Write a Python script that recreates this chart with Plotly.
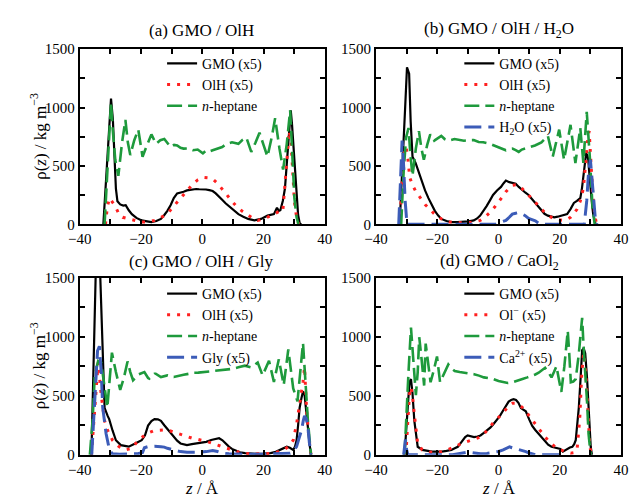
import plotly.graph_objects as go

FONT = "Times New Roman, Liberation Serif, serif"
BLACK = "#000000"
RED = "#ff2020"
GREEN = "#1e9a3c"
BLUE = "#3c5cb8"

# ---------------- panel (a) GMO / OlH ----------------
a_gmo_z = [-32.3,-31.5,-30.6,-29.8,-29.2,-28.6,-28.2,-27.7,-26.8,-25.8,-25.0,-24.0,-23.0,-21.5,-19.8,-18.0,-16.6,-15.0,-13.5,-12.4,-11.4,-10.3,-9.3,-8.2,-7.2,-6.1,-5.0,-4.0,-3.0,-2.0,-1.0,0.0,1.2,2.3,3.4,4.4,5.5,6.5,7.6,8.6,10.2,11.8,13.4,15.0,17.0,19.2,21.3,22.4,23.4,24.4,25.0,25.5,26.3,27.0,27.6,28.1,28.9,29.3,29.7,30.2,30.8,31.3,31.8,32.3]
a_gmo = [0,350,800,1076,900,560,306,197,170,160,164,120,87,55,33,25,19,28,46,80,115,165,224,265,270,279,290,295,300,302,300,300,298,292,285,265,240,210,180,156,120,87,65,46,33,46,74,80,87,142,115,120,200,306,540,743,975,860,689,450,197,80,11,0]
a_olh_z = [-31.6,-31.0,-30.3,-29.5,-28.8,-28.2,-27.2,-26.0,-24.0,-22.0,-19.8,-17.7,-15.6,-14.0,-12.4,-10.8,-9.3,-7.7,-6.1,-4.5,-3.0,-1.5,0.2,1.8,3.4,5.0,6.5,8.1,9.7,11.3,12.9,14.5,16.0,18.1,20.2,22.3,24.0,25.5,26.3,27.0,27.6,28.4,29.0,29.6,30.1,30.8,31.5]
a_olh = [0,150,224,200,170,142,87,60,46,30,19,22,33,50,74,110,156,200,251,300,347,380,402,398,388,350,306,250,197,150,115,85,60,33,46,74,95,115,111,350,600,800,700,450,194,60,0]
a_hep_z = [-31.9,-31.0,-30.3,-29.8,-29.2,-28.4,-27.4,-26.2,-25.1,-24.3,-23.5,-22.2,-20.9,-20.2,-19.5,-18.0,-16.6,-15.1,-13.7,-12.4,-11.3,-10.3,-9.2,-8.2,-7.1,-6.1,-4.5,-3.0,-1.5,0.2,1.3,2.4,3.4,5.0,6.5,8.0,9.7,11.8,13.0,14.4,16.0,17.4,18.7,20.0,21.3,22.8,23.8,25.2,26.4,27.6,28.7,29.4,30.1,30.8,31.4]
a_hep = [0,500,900,1044,800,550,415,700,893,700,593,720,811,700,579,680,770,689,720,730,690,661,680,675,655,648,650,634,640,607,634,625,634,650,661,690,702,689,720,743,620,700,784,680,579,760,908,650,468,689,977,600,221,60,0]

# ---------------- panel (b) GMO / OlH / H2O ----------------
b_gmo_z = [-32.3,-31.3,-30.5,-29.9,-29.2,-28.7,-28.1,-27.1,-26.0,-25.0,-24.0,-22.9,-21.8,-20.8,-19.7,-18.7,-17.0,-15.5,-13.5,-11.3,-9.7,-8.1,-7.0,-6.0,-5.0,-3.9,-2.8,-1.8,-0.5,0.8,1.6,2.4,3.5,4.5,5.6,6.6,7.7,8.8,9.8,10.9,11.9,13.0,14.0,15.0,16.1,17.2,18.2,19.3,20.3,21.4,22.4,23.5,24.6,25.6,26.7,27.2,27.7,28.2,28.6,29.0,29.3,29.7,30.0,30.5,30.9,31.3,31.7]
b_gmo = [0,500,1000,1344,1290,880,579,525,440,361,290,224,165,115,75,46,28,19,18,19,25,33,50,74,110,156,205,251,290,320,350,374,361,355,347,320,292,270,251,215,183,150,115,90,74,65,60,65,74,80,87,130,183,200,224,300,415,540,607,590,552,420,306,180,87,30,0]
b_olh_z = [-32.3,-31.5,-30.8,-30.2,-29.6,-29.0,-28.0,-27.0,-25.5,-24.0,-22.5,-21.0,-19.5,-18.0,-16.0,-13.0,-10.2,-8.0,-6.0,-4.5,-2.8,-1.2,0.3,1.4,2.4,3.5,4.5,5.6,6.6,7.7,8.7,9.8,10.9,12.0,13.0,14.0,15.1,16.6,18.2,19.8,21.4,22.5,23.5,24.5,25.6,26.7,27.7,28.3,28.8,29.2,29.6,30.0,30.3,30.8,31.4,32.0]
b_olh = [0,400,650,661,560,400,330,280,220,170,130,90,60,35,20,13,11,20,33,60,101,150,197,240,279,310,333,338,333,305,279,250,224,190,156,128,101,70,46,38,33,45,60,90,128,200,306,480,634,750,798,650,470,250,87,0]
b_hep_z = [-31.8,-31.0,-30.2,-29.4,-28.8,-28.1,-27.0,-26.0,-25.2,-24.4,-23.3,-22.3,-21.0,-19.8,-18.7,-17.6,-16.5,-14.4,-12.8,-11.3,-9.7,-8.1,-6.5,-5.0,-2.8,-0.2,1.2,2.4,3.5,4.5,5.6,6.6,7.6,8.7,10.3,11.9,14.0,15.1,16.1,17.7,18.8,19.8,21.4,22.5,23.5,25.1,26.7,27.7,28.8,29.8,30.7,31.4]
b_hep = [0,450,743,825,600,415,650,798,650,552,680,770,716,740,757,730,716,730,725,716,720,721,705,702,689,661,650,634,645,648,635,620,640,648,660,675,702,730,757,579,700,811,552,700,852,525,825,525,962,579,142,0]
b_h2o_z = [-32.6,-32.0,-31.5,-31.0,-30.5,-29.9,-20.0,-10.0,-1.0,-0.2,1.2,2.4,3.5,4.5,5.6,6.6,7.7,8.7,9.8,10.9,12.0,13.0,14.5,20.0,28.0,28.8,29.4,30.0,30.5,31.0,31.6,32.1]
b_h2o = [0,400,716,500,200,0,0,0,0,11,20,33,60,87,95,101,88,74,50,38,30,11,0,0,0,200,450,552,400,200,50,0]

# ---------------- panel (c) GMO / OlH / Gly ----------------
c_gmo_z = [-36.2,-35.5,-34.8,-34.2,-33.3,-32.4,-31.9,-30.9,-30.4,-29.3,-28.2,-26.6,-24.0,-21.9,-19.8,-18.7,-17.7,-16.6,-15.6,-14.5,-13.5,-12.4,-11.4,-10.3,-9.2,-8.2,-7.1,-5.0,-3.4,-1.8,-0.2,1.3,2.9,4.5,5.5,6.6,7.6,8.7,9.7,10.8,12.3,13.9,16.0,18.1,20.2,22.3,24.0,25.5,26.6,27.6,28.6,29.7,30.3,30.8,31.3,31.8,32.4,32.9,33.4,34.0,34.5,35.0,35.5]
c_gmo = [0,800,1500,2180,1500,672,398,329,302,206,123,82,69,96,123,165,247,285,302,300,288,250,219,185,151,120,96,82,90,96,105,110,125,137,140,123,95,69,50,36,22,14,10,8,10,14,25,41,55,69,60,41,70,123,250,398,480,535,507,380,233,100,0]
c_olh_z = [-36.2,-35.0,-34.0,-33.0,-31.9,-30.9,-29.3,-27.2,-25.1,-23.0,-20.9,-18.8,-17.2,-15.6,-14.0,-12.4,-10.8,-9.3,-7.7,-6.1,-4.5,-2.9,-1.3,0.3,1.9,3.4,5.0,6.6,8.2,9.7,11.3,12.9,15.5,18.1,20.8,23.4,26.6,28.2,29.7,30.8,31.8,32.4,32.9,33.4,34.1,34.8,35.5]
c_olh = [0,450,781,507,288,206,123,69,41,55,123,165,190,206,210,211,205,192,180,165,150,137,130,123,110,96,82,69,50,36,25,14,8,5,8,14,41,70,123,260,425,530,617,740,370,150,0]
c_hep_z = [-36.7,-35.8,-35.1,-34.0,-33.0,-32.0,-31.0,-30.2,-29.5,-28.2,-26.8,-25.6,-24.4,-23.5,-22.6,-20.8,-18.9,-17.7,-17.3,-15.6,-15.2,-13.5,-12.6,-11.4,-9.3,-7.7,-6.1,-4.5,-2.9,-1.3,0.3,1.9,3.4,5.0,6.6,8.2,9.7,11.8,13.9,16.0,18.1,19.7,21.8,23.4,25.0,26.6,28.1,29.7,31.1,32.0,32.9,33.7,34.5,35.5]
c_hep = [0,300,672,795,781,600,400,650,864,700,549,650,790,700,631,680,700,650,645,686,686,658,665,672,658,670,677,685,694,695,699,702,705,710,713,720,727,740,754,740,781,672,795,617,809,590,891,562,452,700,946,617,288,0]
c_gly_z = [-36.1,-35.5,-34.8,-34.2,-33.6,-33.0,-32.5,-31.4,-30.3,-29.3,-27.0,-24.0,-21.0,-19.5,-18.9,-17.7,-15.6,-13.5,-12.4,-11.4,-9.2,-7.1,-5.0,-2.9,-0.8,1.3,3.4,5.0,6.6,8.7,11.8,15.0,20.0,25.0,28.7,29.7,30.8,31.6,32.4,33.0,33.4,34.0,34.5,35.0,35.5]
c_gly = [0,300,650,880,919,700,398,178,41,8,5,8,10,20,60,69,72,68,65,55,40,27,22,19,22,27,36,28,14,8,5,5,5,8,14,30,69,140,206,290,329,300,233,100,0]

# ---------------- panel (d) GMO / CaOl2 ----------------
d_gmo_z = [-30.7,-30.2,-29.6,-29.1,-28.6,-28.1,-27.5,-26.9,-26.4,-24.9,-23.3,-21.7,-20.1,-18.5,-17.0,-15.4,-14.3,-13.3,-12.5,-11.7,-10.9,-10.1,-9.0,-8.0,-6.9,-5.9,-4.8,-3.8,-2.7,-1.7,-0.6,0.4,1.5,2.5,3.3,4.1,4.9,5.7,6.5,7.3,8.1,8.9,10.0,11.0,12.0,13.1,14.1,15.2,16.2,17.3,18.3,19.4,20.2,21.0,21.8,22.5,23.3,24.1,24.7,25.2,25.7,26.2,26.8,27.3,27.8,28.3,28.9,29.3,29.7,30.1,30.5]
d_gmo = [0,200,450,614,641,520,286,140,68,41,35,27,28,27,33,41,55,68,95,123,150,164,160,150,155,164,185,205,230,259,290,327,375,423,450,464,470,464,440,395,380,368,300,245,210,177,140,109,85,68,60,55,50,27,40,55,62,68,90,123,250,395,650,886,900,859,650,450,250,68,0]
d_olh_z = [-30.6,-30.1,-29.6,-29.1,-28.6,-28.1,-27.5,-27.0,-26.4,-24.9,-23.3,-21.7,-20.1,-18.5,-16.9,-15.4,-13.8,-12.2,-10.6,-9.1,-7.5,-5.9,-4.3,-2.7,-1.1,0.4,1.5,2.5,3.6,4.6,5.6,6.7,7.8,8.9,10.4,12.0,13.6,15.2,16.8,18.4,20.0,21.6,23.6,25.0,25.7,26.5,27.2,27.8,28.5,29.2,29.8,30.3]
d_olh = [0,68,300,505,573,500,341,200,95,41,28,19,22,27,40,55,75,95,110,123,135,150,190,245,290,327,360,395,420,436,436,423,400,368,315,259,205,150,105,68,45,27,14,20,60,300,700,860,700,350,80,0]
d_hep_z = [-30.7,-30.2,-29.4,-28.6,-27.8,-27.0,-26.4,-25.9,-25.1,-24.3,-23.8,-23.0,-22.2,-21.1,-20.1,-19.1,-17.7,-16.4,-15.3,-14.3,-12.7,-11.2,-9.6,-8.0,-6.4,-4.8,-3.2,-1.7,0.0,1.5,3.0,4.6,6.2,7.8,9.4,11.0,12.0,13.1,14.1,15.2,16.2,17.3,18.1,18.9,19.7,20.5,21.5,22.6,23.1,23.6,24.4,25.2,26.2,27.3,27.8,28.3,28.9,29.4,30.1]
d_hep = [0,314,700,1077,800,505,700,995,800,586,941,780,614,720,832,614,700,764,730,709,700,695,690,682,670,655,648,641,625,614,608,614,625,641,655,668,680,695,715,736,700,655,700,750,640,532,750,1050,850,614,620,641,850,1159,900,723,450,177,0]
d_ca_z = [-31.0,-30.8,-30.4,-30.0,-29.6,-15.0,-12.2,-10.6,-9.1,-7.5,-5.9,-3.8,-1.7,0.0,1.5,2.5,3.6,4.4,5.2,6.0,6.7,7.8,8.9,10.0,11.0,12.0,20.0]
d_ca = [0,50,130,40,0,0,14,20,19,12,8,12,19,28,41,55,68,60,55,50,46,35,27,15,8,0,0]

titles = ["(a) GMO / OlH", "(b) GMO / OlH / H<sub>2</sub>O",
          "(c) GMO / OlH / Gly", "(d) GMO / CaOl<sub>2</sub>"]
x_tickvals = [-40, -30, -20, -10, 0, 10, 20, 30, 40]
x_ticktext = ["\u221240", "", "\u221220", "", "0", "", "20", "", "40"]
y_tickvals = [0, 250, 500, 750, 1000, 1250, 1500]
y_ticktext = ["0", "", "500", "", "1000", "", "1500"]

GMO_NAME = "GMO (x5)"
OLH_NAME = "OlH (x5)"
HEP_NAME = "<i>n</i>-heptane"

panels = [
    [(a_gmo_z, a_gmo, GMO_NAME, "gmo"), (a_olh_z, a_olh, OLH_NAME, "olh"), (a_hep_z, a_hep, HEP_NAME, "hep")],
    [(b_gmo_z, b_gmo, GMO_NAME, "gmo"), (b_olh_z, b_olh, OLH_NAME, "olh"), (b_hep_z, b_hep, HEP_NAME, "hep"),
     (b_h2o_z, b_h2o, "H<sub>2</sub>O (x5)", "blue")],
    [(c_gmo_z, c_gmo, GMO_NAME, "gmo"), (c_olh_z, c_olh, OLH_NAME, "olh"), (c_hep_z, c_hep, HEP_NAME, "hep"),
     (c_gly_z, c_gly, "Gly (x5)", "blue")],
    [(d_gmo_z, d_gmo, GMO_NAME, "gmo"), (d_olh_z, d_olh, "Ol<sup>\u2212</sup> (x5)", "olh"), (d_hep_z, d_hep, HEP_NAME, "hep"),
     (d_ca_z, d_ca, "Ca<sup>2+</sup> (x5)", "blue")],
]

styles = {
    "gmo": dict(color=BLACK, width=2.2),
    "olh": dict(color=RED, width=3, dash="3px,7px"),
    "hep": dict(color=GREEN, width=2.6, dash="15px,6px"),
    "blue": dict(color=BLUE, width=3, dash="17px,7px"),
}

W, H = 630, 496
px_x = [(70, 323), (376, 629), (70, 323), (376, 629)]
px_y = [(42.5, 223.5), (42.5, 223.5), (278.5, 461.7), (278.5, 461.7)]

fig = go.Figure()
legend_names = ["legend", "legend2", "legend3", "legend4"]
for i, series in enumerate(panels):
    n = "" if i == 0 else str(i + 1)
    for z, v, name, key in series:
        fig.add_trace(go.Scatter(x=z, y=v, name=name, mode="lines", line=styles[key],
                                 xaxis="x" + n, yaxis="y" + n, legend=legend_names[i]))

layout = dict(width=W, height=H, margin=dict(l=0, r=0, t=0, b=0),
              paper_bgcolor="white", plot_bgcolor="white",
              font=dict(family=FONT, color="black", size=15), showlegend=True)
axis_common = dict(showline=True, linewidth=2, linecolor="black", mirror="ticks",
                   ticks="inside", ticklen=5, tickwidth=2, tickcolor="black",
                   showgrid=False, zeroline=False,
                   tickfont=dict(family=FONT, size=15, color="black"))
for i in range(4):
    n = "" if i == 0 else str(i + 1)
    x0, x1 = px_x[i]
    yt, yb = px_y[i]
    layout["xaxis" + n] = dict(axis_common, domain=[x0 / W, x1 / W], range=[-40, 40],
                               tickmode="array", tickvals=x_tickvals, ticktext=x_ticktext,
                               anchor="y" + n)
    layout["yaxis" + n] = dict(axis_common, domain=[1 - yb / H, 1 - yt / H], range=[0, 1500],
                               tickmode="array", tickvals=y_tickvals, ticktext=y_ticktext,
                               anchor="x" + n)

leg_pos = [(155, 41), (462, 41), (155, 279), (462, 279)]
for i, (lx, ly) in enumerate(leg_pos):
    layout[legend_names[i]] = dict(x=lx / W, y=1 - ly / H, xanchor="left", yanchor="top",
                                   bgcolor="rgba(0,0,0,0)", borderwidth=0,
                                   font=dict(family=FONT, size=14, color="black"),
                                   tracegroupgap=0)

annotations = []
title_pos = [(196, 23), (503, 23), (196, 262), (503, 262)]
for t, (tx, ty) in zip(titles, title_pos):
    annotations.append(dict(text=t, x=tx / W, y=1 - ty / H, xref="paper", yref="paper",
                            xanchor="center", yanchor="middle", showarrow=False,
                            font=dict(family=FONT, size=17, color="black")))
for cy in [133, 370]:
    annotations.append(dict(text="\u03c1(<i>z</i>) / kg m<sup>\u22123</sup>", x=27 / W, y=1 - cy / H,
                            xref="paper", yref="paper", xanchor="center", yanchor="middle",
                            textangle=-90, showarrow=False,
                            font=dict(family=FONT, size=17, color="black")))
for cx in [196, 503]:
    annotations.append(dict(text="<i>z</i> / \u00c5", x=cx / W, y=1 - 485 / H,
                            xref="paper", yref="paper", xanchor="center", yanchor="top",
                            showarrow=False, font=dict(family=FONT, size=17, color="black")))
layout["annotations"] = annotations

fig.update_layout(**layout)
fig.write_html("out.html")
